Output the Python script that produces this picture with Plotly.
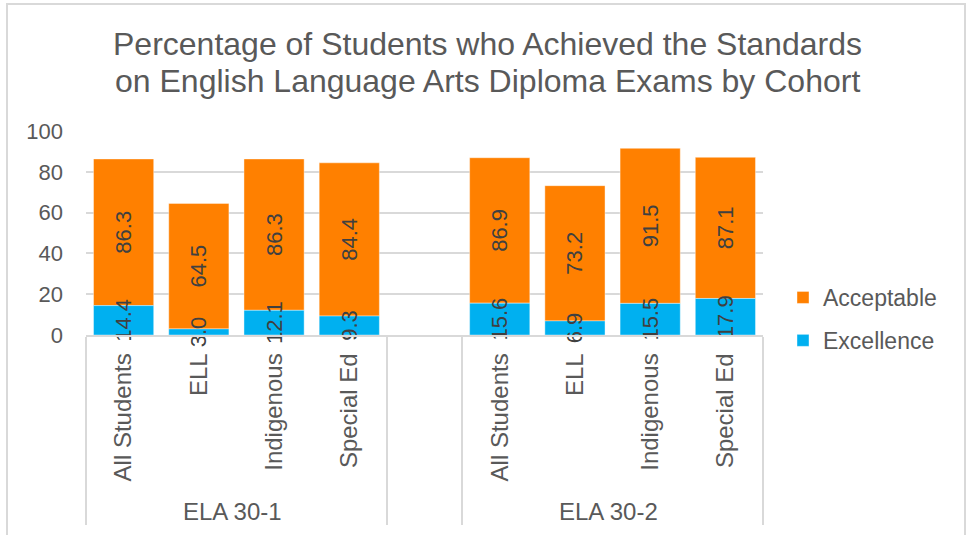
import plotly.graph_objects as go

# ---- data ----
exams = ["ELA 30-1"] * 4 + [" "] + ["ELA 30-2"] * 4
cohorts = ["All Students", "ELL", "Indigenous", "Special Ed", " ",
           "All Students", "ELL", "Indigenous", "Special Ed"]
excellence = [14.4, 3.0, 12.1, 9.3, None, 15.6, 6.9, 15.5, 17.9]
acceptable = [86.3, 64.5, 86.3, 84.4, None, 86.9, 73.2, 91.5, 87.1]
y_ticks = [0, 20, 40, 60, 80, 100]
title_lines = ["Percentage of Students who Achieved the Standards",
               "on English Language Arts Diploma Exams by Cohort"]

ORANGE = "#FF8000"
BLUE = "#00B0F0"
GRAY = "#595959"
LIGHT = "#D9D9D9"
FONT = "Arial, Liberation Sans, sans-serif"

W, H = 974, 535
L, R, T, B = 86, 211, 131, 200

acc_rest = [None if a is None else a - e for a, e in zip(acceptable, excellence)]
fmt = lambda v: "" if v is None else f"{v:.1f}"

fig = go.Figure()
fig.add_trace(go.Bar(
    x=[exams, cohorts], y=acc_rest, base=excellence, name="Acceptable",
    marker=dict(color=ORANGE, line=dict(color="rgba(255,255,255,0.4)", width=1)),
    text=[fmt(v) for v in acceptable], textposition="inside", textangle=-90,
    insidetextanchor="middle", textfont=dict(color="#404040", size=22, family=FONT),
    cliponaxis=False, legendgroup="acc", hoverinfo="skip",
))
fig.add_trace(go.Bar(
    x=[exams, cohorts], y=excellence, name="Excellence",
    marker=dict(color=BLUE, line=dict(color="rgba(255,255,255,0.4)", width=1)),
    text=[fmt(v) for v in excellence], textposition="inside", textangle=-90,
    insidetextanchor="middle", textfont=dict(color="#404040", size=22, family=FONT),
    cliponaxis=False, legendgroup="exc", hoverinfo="skip",
))

def py(p):
    return (H - B - p) / (H - T - B)

def px(p):
    return (p - L) / (W - L - R)

annotations = []
for line, yc in zip(title_lines, [44, 81]):
    annotations.append(dict(
        text=line, xref="paper", yref="paper", x=px(487), y=py(yc),
        xanchor="center", yanchor="middle", showarrow=False,
        font=dict(size=32, color=GRAY, family=FONT),
    ))

fig.update_layout(
    width=W, height=H,
    margin=dict(l=L, r=R, t=T, b=B, pad=0, autoexpand=False),
    paper_bgcolor="white", plot_bgcolor="white",
    barmode="overlay", bargap=0.2,
    font=dict(family=FONT, color=GRAY, size=22),
    uniformtext=dict(minsize=22, mode="show"),
    showlegend=True,
    legend=dict(
        x=px(783), y=py(319), xanchor="left", yanchor="middle",
        font=dict(size=23, color=GRAY, family=FONT),
        traceorder="grouped", tracegroupgap=10,
        bgcolor="rgba(0,0,0,0)",
    ),
    annotations=annotations,
    shapes=[dict(
        type="rect", xref="paper", yref="paper",
        x0=px(7), x1=px(965), y0=py(560), y1=py(4),
        line=dict(color=LIGHT, width=2), fillcolor="rgba(0,0,0,0)", layer="below",
    )],
)

fig.update_yaxes(
    range=[0, 100], tickvals=y_ticks, showgrid=True, gridcolor=LIGHT, gridwidth=1.5,
    zeroline=False, showline=False, ticks="", ticklabelstandoff=22, automargin=False,
    tickfont=dict(size=22, color=GRAY, family=FONT),
)
fig.update_xaxes(
    type="multicategory", tickangle=-90, showline=True, linecolor=LIGHT, linewidth=1.5,
    showdividers=True, dividercolor=LIGHT, dividerwidth=1.5, ticks="", automargin=False,
    ticklabelstandoff=7,
    tickfont=dict(size=24, color=GRAY, family=FONT),
)

fig.write_html("out.html", config={"displayModeBar": False},
               post_script="document.body.style.margin='0';")
